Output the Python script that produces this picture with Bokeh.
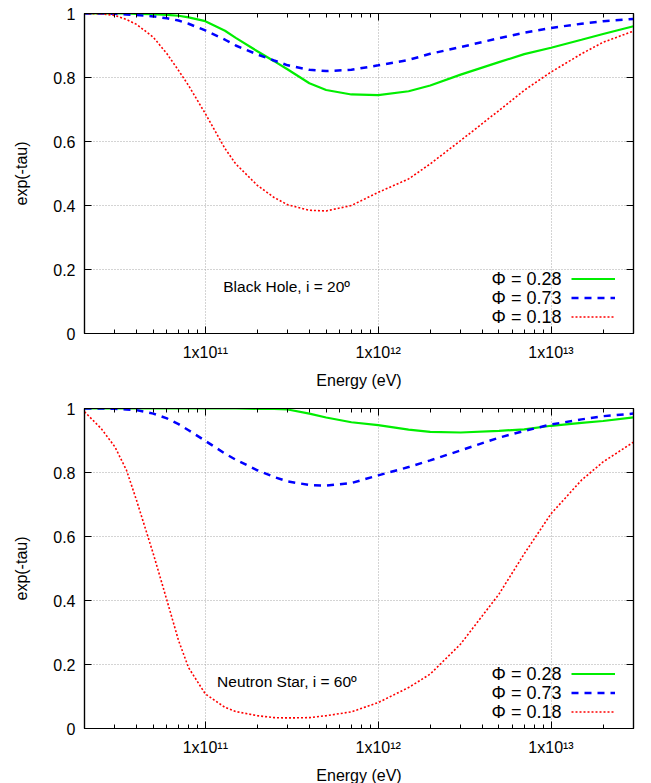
from bokeh.plotting import figure
from bokeh.models import (FixedTicker, LogAxis, LinearAxis, Legend, LegendItem,
                          Label, Range1d, CustomJSTickFormatter)
from bokeh.layouts import column
from bokeh.embed import file_html
from bokeh.resources import INLINE

# ---------------- data ----------------
energy = [2e10, 2.5e10, 3e10, 3.5e10, 4e10, 5e10, 6e10, 7e10, 8e10, 1e11,
          1.3e11, 1.5e11, 2e11, 2.5e11, 3e11, 4e11, 5e11, 7e11, 1e12, 1.5e12,
          2e12, 3e12, 5e12, 7e12, 1e13, 1.5e13, 2e13, 3e13]

# Black Hole, i = 20 deg
bh_phi028 = [1.0, 1.0, 1.0, 1.0, 0.999, 0.998, 0.996, 0.993, 0.988, 0.976,
             0.946, 0.924, 0.882, 0.851, 0.825, 0.782, 0.761, 0.747, 0.745, 0.757,
             0.775, 0.809, 0.848, 0.873, 0.893, 0.918, 0.936, 0.960]
bh_phi073 = [1.0, 1.0, 0.999, 0.997, 0.995, 0.991, 0.985, 0.978, 0.968, 0.947,
             0.918, 0.900, 0.872, 0.853, 0.838, 0.824, 0.820, 0.824, 0.838, 0.855,
             0.874, 0.895, 0.923, 0.940, 0.955, 0.968, 0.976, 0.983]
bh_phi018 = [1.0, 0.999, 0.994, 0.981, 0.966, 0.926, 0.874, 0.822, 0.775, 0.687,
             0.578, 0.530, 0.463, 0.425, 0.402, 0.385, 0.383, 0.400, 0.441, 0.483,
             0.530, 0.603, 0.697, 0.760, 0.817, 0.874, 0.910, 0.945]

# Neutron Star, i = 60 deg
ns_phi028 = [1.0, 1.0, 1.0, 1.0, 1.0, 1.0, 1.0, 1.0, 1.0, 1.0,
             1.0, 1.0, 0.999, 0.999, 0.997, 0.984, 0.972, 0.957, 0.948, 0.934,
             0.927, 0.925, 0.930, 0.935, 0.946, 0.955, 0.961, 0.972]
ns_phi073 = [1.0, 1.0, 0.999, 0.997, 0.995, 0.984, 0.969, 0.951, 0.932, 0.899,
             0.859, 0.840, 0.807, 0.786, 0.772, 0.761, 0.759, 0.767, 0.791, 0.817,
             0.838, 0.869, 0.909, 0.930, 0.950, 0.966, 0.976, 0.984]
ns_phi018 = [0.990, 0.937, 0.880, 0.807, 0.713, 0.546, 0.400, 0.275, 0.190, 0.108,
             0.066, 0.053, 0.040, 0.034, 0.033, 0.034, 0.040, 0.052, 0.081, 0.128,
             0.170, 0.264, 0.420, 0.546, 0.671, 0.776, 0.833, 0.895]

series_labels = ["\u03a6 = 0.28", "\u03a6 = 0.73", "\u03a6 = 0.18"]
panel_titles = ["Black Hole, i = 20\u00ba", "Neutron Star, i = 60\u00ba"]

x_ticks = [1e11, 1e12, 1e13]
x_tick_labels = ["1x10\u00b9\u00b9", "1x10\u00b9\u00b2", "1x10\u00b9\u00b3"]
y_ticks = [0, 0.2, 0.4, 0.6, 0.8, 1]
y_tick_labels = ["0", "0.2", "0.4", "0.6", "0.8", "1"]
x_label = "Energy (eV)"
y_label = "exp(-tau)"

# ---------------- styling ----------------
FONT = "Liberation Sans"
COLORS = ["#00ee00", "#0000ff", "#ff0000"]
DASHES = ["solid", "7 6", "2 2"]
WIDTHS = [2.2, 2.5, 1.6]

minor_x = [m * 10 ** k for k in range(10, 14) for m in range(2, 10)
           if 2e10 <= m * 10 ** k <= 3e13]


def style_axis(ax, ticks, minor, labels=None, overrides=None):
    ax.ticker = FixedTicker(ticks=ticks, minor_ticks=minor)
    ax.axis_line_color = "black"
    ax.axis_line_width = 1.2
    ax.major_tick_in = 7
    ax.major_tick_out = 0
    ax.minor_tick_in = 4
    ax.minor_tick_out = 0
    ax.major_tick_line_color = "black"
    ax.minor_tick_line_color = "black" if minor else None
    if labels:
        ax.major_label_text_font = FONT
        ax.major_label_text_font_size = "16px"
        ax.major_label_text_color = "black"
        ax.major_label_overrides = overrides
    else:
        ax.formatter = CustomJSTickFormatter(code="return ''")
        ax.major_label_text_font_size = "0px"
        ax.major_label_standoff = 0


def make_panel(vals, title, title_x, border_top, border_bottom):
    p = figure(x_axis_type="log", x_range=Range1d(2e10, 3e13),
               y_range=Range1d(0, 1), frame_width=549, frame_height=320,
               output_backend="svg", toolbar_location=None,
               min_border_left=84, min_border_right=8,
               min_border_top=border_top, min_border_bottom=border_bottom,
               background_fill_color="white", border_fill_color="white")
    p.outline_line_color = "black"
    p.outline_line_width = 1.2

    xa = p.xaxis[0]
    ya = p.yaxis[0]
    style_axis(xa, x_ticks, minor_x, True, dict(zip(x_ticks, x_tick_labels)))
    style_axis(ya, y_ticks, [], True, dict(zip(y_ticks, y_tick_labels)))
    xa.major_label_standoff = 10
    ya.major_label_standoff = 9
    xa.axis_label = x_label
    ya.axis_label = y_label
    for ax in (xa, ya):
        ax.axis_label_text_font = FONT
        ax.axis_label_text_font_size = "16px"
        ax.axis_label_text_font_style = "normal"
        ax.axis_label_text_color = "black"
    xa.axis_label_standoff = 8
    ya.axis_label_standoff = 20

    top = LogAxis()
    style_axis(top, x_ticks, minor_x)
    p.add_layout(top, "above")
    right = LinearAxis()
    style_axis(right, y_ticks, [])
    p.add_layout(right, "right")

    p.grid.grid_line_color = "#a8a8a8"
    p.grid.grid_line_dash = "1 2"
    p.grid.grid_line_width = 1
    p.xgrid.ticker = FixedTicker(ticks=x_ticks)
    p.ygrid.ticker = FixedTicker(ticks=y_ticks)

    renderers = []
    for v, c, d, w in zip(vals, COLORS, DASHES, WIDTHS):
        r = p.line(energy, v, line_color=c, line_dash=d, line_width=w)
        renderers.append(r)

    legend = Legend(items=[LegendItem(label=" ", renderers=[r]) for r in renderers],
                    location=(487, 7), orientation="vertical",
                    glyph_width=44, glyph_height=19, label_height=19,
                    label_width=0, label_standoff=0, padding=0, spacing=0,
                    margin=0, border_line_color=None, background_fill_alpha=0,
                    label_text_font_size="1px")
    p.add_layout(legend, "center")

    for lab, yv in zip(series_labels, [0.171, 0.110, 0.051]):
        p.add_layout(Label(x=1.15e13, y=yv, text=lab, text_align="right",
                           text_baseline="middle", text_font=FONT,
                           text_font_size="18px", text_color="black"))
    p.add_layout(Label(x=title_x, y=0.148, text=title, text_align="left",
                       text_baseline="middle", text_font=FONT,
                       text_font_size="15.5px", text_color="black"))
    return p


p1 = make_panel([bh_phi028, bh_phi073, bh_phi018], panel_titles[0], 1.27e11,
                13, 62)
p2 = make_panel([ns_phi028, ns_phi073, ns_phi018], panel_titles[1], 1.17e11,
                13, 54)

layout = column(p1, p2, spacing=0)
open("out.html", "w").write(file_html(layout, INLINE))
